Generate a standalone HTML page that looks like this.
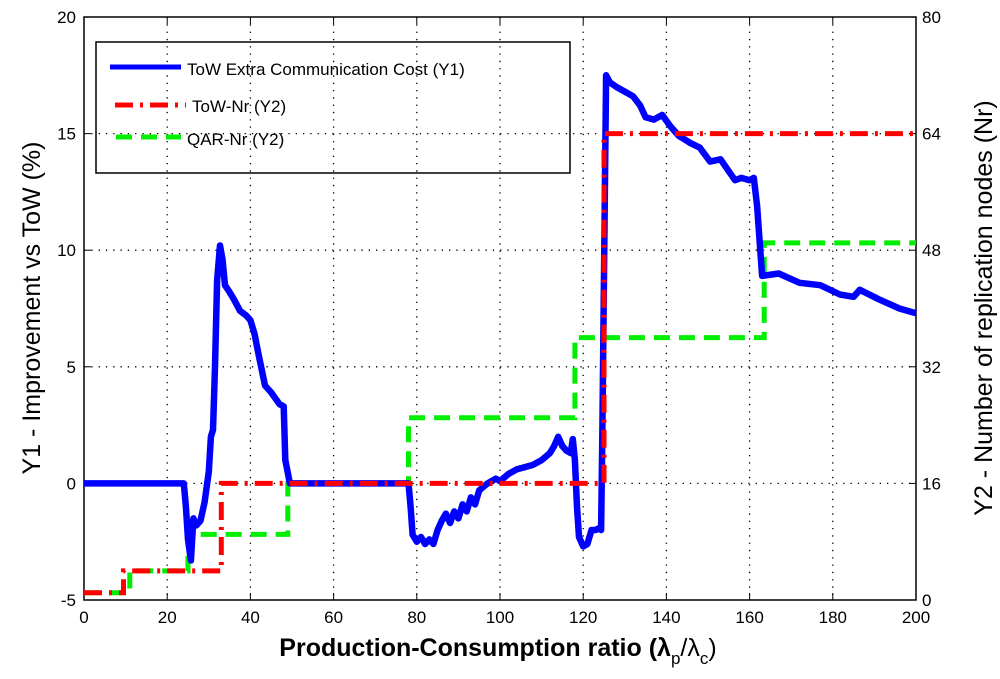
<!DOCTYPE html>
<html><head><meta charset="utf-8"><style>
body{margin:0;background:#fff;}
svg{display:block;font-family:"Liberation Sans",sans-serif;}
</style></head><body>
<svg id="chart" width="1000" height="679"></svg>
<script>
const xTicks=[0,20,40,60,80,100,120,140,160,180,200];
const y1Ticks=[-5,0,5,10,15,20];
const y2Ticks=[0,16,32,48,64,80];
const blueX=[0,24,24.5,25,25.7,26.3,27,28,29,30,30.5,31,31.5,32,32.7,33.3,33.9,35,36,37.5,39,40,41,42,43.5,45,47,48,48.4,49.5,78,78.5,79,80,81,82,83,84,85,86,87,88,89,90,91,92,93,94,95,97,99,100,102,104,106,108,110,112,113,114,115,116,117,117.5,118,118.5,119,120,121,122,123,124,124.3,124.6,125.5,126.4,128,130,132,133.7,135,137,139,141,143,145.7,148,150.5,153,156.5,158,160,161,161.8,163,167,172,177,181.7,185,186.5,191,196,200];
const blueY=[0,0,-1,-2.4,-3.3,-1.5,-1.8,-1.6,-0.8,0.5,2.0,2.3,5,8.7,10.2,9.6,8.5,8.2,7.9,7.4,7.2,7.0,6.4,5.5,4.2,3.9,3.4,3.3,1.0,0,0,-1,-2.2,-2.5,-2.3,-2.6,-2.4,-2.6,-2,-1.6,-1.3,-1.7,-1.2,-1.5,-0.9,-1.2,-0.6,-0.9,-0.3,0,0.2,0.1,0.4,0.6,0.7,0.8,1.0,1.3,1.6,2.0,1.6,1.4,1.3,1.9,1.0,-1.0,-2.3,-2.7,-2.6,-2.0,-2.0,-1.9,-2.0,2.0,17.5,17.2,17.0,16.8,16.6,16.2,15.7,15.6,15.8,15.3,14.9,14.6,14.4,13.8,13.9,13.0,13.1,13.0,13.1,11.9,8.9,9.0,8.6,8.5,8.1,8.0,8.3,7.9,7.5,7.3];
const redX=[0,9.5,9.5,33,33,125,125,200];
const redY=[1,1,4,4,16,16,64,64];
const greenX=[0,11,11,25,25,49,49,78,78,118,118,163.5,163.5,200];
const greenY=[1,1,4,4,9,9,16,16,25,25,36,36,49,49];

const L=84,R=916,T=17,B=600;
const sx=v=>L+(v-0)/200*(R-L);
const sy1=v=>B-(v+5)/25*(B-T);
const sy2=v=>B-v/80*(B-T);
const NS="http://www.w3.org/2000/svg";
const svg=document.getElementById('chart');
function mk(tag,attrs,parent){const e=document.createElementNS(NS,tag);for(const k in attrs)e.setAttribute(k,attrs[k]);(parent||svg).appendChild(e);return e;}

xTicks.forEach(t=>{if(t>0&&t<200){const g=mk('line',{x1:sx(t),x2:sx(t),y1:T,y2:B,stroke:'#000','stroke-width':1.3,'stroke-dasharray':'1.3 6'});

}});
y1Ticks.forEach(t=>{if(t>-5&&t<20){const g=mk('line',{x1:L,x2:R,y1:sy1(t),y2:sy1(t),stroke:'#000','stroke-width':1.3,'stroke-dasharray':'1.3 6'});

}});

const fr=mk('rect',{x:L,y:T,width:R-L,height:B-T,fill:'none',stroke:'#000','stroke-width':1.5});



xTicks.forEach(t=>{
 mk('line',{x1:sx(t),x2:sx(t),y1:B,y2:B-7,stroke:'#000'});
 mk('line',{x1:sx(t),x2:sx(t),y1:T,y2:T+7,stroke:'#000'});
 const tx=mk('text',{x:sx(t),y:B+23,'font-size':17,'text-anchor':'middle'});tx.textContent=t;
 
 
});
y1Ticks.forEach(t=>{
 mk('line',{x1:L,x2:L+7,y1:sy1(t),y2:sy1(t),stroke:'#000'});
 const tx=mk('text',{x:L-8,y:sy1(t)+6,'font-size':17,'text-anchor':'end'});tx.textContent=t;
 
 
});
y2Ticks.forEach(t=>{
 mk('line',{x1:R,x2:R-7,y1:sy2(t),y2:sy2(t),stroke:'#000'});
 const tx=mk('text',{x:R+6,y:sy2(t)+6,'font-size':17,'text-anchor':'start'});tx.textContent=t;
 
 
});

function path(xs,ys,f){return xs.map((x,i)=>(i?'L':'M')+sx(x).toFixed(1)+' '+f(ys[i]).toFixed(1)).join(' ');}
const gp=mk('path',{d:path(greenX,greenY,sy2),fill:'none',stroke:'#00ee00','stroke-width':5,'stroke-dasharray':'16 9'});


const bp=mk('path',{d:path(blueX,blueY,sy1),fill:'none',stroke:'#0000ff','stroke-width':6.5,'stroke-linejoin':'round'});


const rp=mk('path',{d:path(redX,redY,sy2),fill:'none',stroke:'#ff0000','stroke-width':5,'stroke-dasharray':'18 7 3 7'});


</script>
<svg style="position:absolute;left:0;top:0" width="1000" height="679">
 <g>
  <rect x="96" y="42" width="474" height="131" fill="none" stroke="#000" stroke-width="1.5"/>
  <line x1="110" y1="67" x2="181" y2="67" stroke="#0000ff" stroke-width="5"/>
  <text x="187" y="75" font-size="17" font-family="Liberation Sans,sans-serif">ToW Extra Communication Cost (Y1)</text>
  <line x1="115" y1="105" x2="186" y2="105" stroke="#ff0000" stroke-width="5" stroke-dasharray="18 7 3 7"/>
  <text x="192" y="112" font-size="17" font-family="Liberation Sans,sans-serif">ToW-Nr (Y2)</text>
  <line x1="116" y1="137" x2="181" y2="137" stroke="#00ee00" stroke-width="5" stroke-dasharray="16 9"/>
  <text x="187" y="145" font-size="17" font-family="Liberation Sans,sans-serif">QAR-Nr (Y2)</text>
 </g>
 <text x="498" y="656" font-size="25" font-weight="bold" text-anchor="middle" font-family="Liberation Sans,sans-serif">Production-Consumption ratio (λ<tspan font-size="17" font-weight="normal" dy="8">p</tspan><tspan font-weight="normal" dy="-8">/λ</tspan><tspan font-size="17" font-weight="normal" dy="8">c</tspan><tspan font-weight="normal" dy="-8">)</tspan></text>
 <text transform="translate(40,308) rotate(-90)" font-size="25" text-anchor="middle" font-family="Liberation Sans,sans-serif">Y1 - Improvement vs ToW (%)</text>
 <text transform="translate(992,308) rotate(-90)" font-size="25" text-anchor="middle" font-family="Liberation Sans,sans-serif">Y2 - Number of replication nodes (Nr)</text>
</svg>
</body></html>
